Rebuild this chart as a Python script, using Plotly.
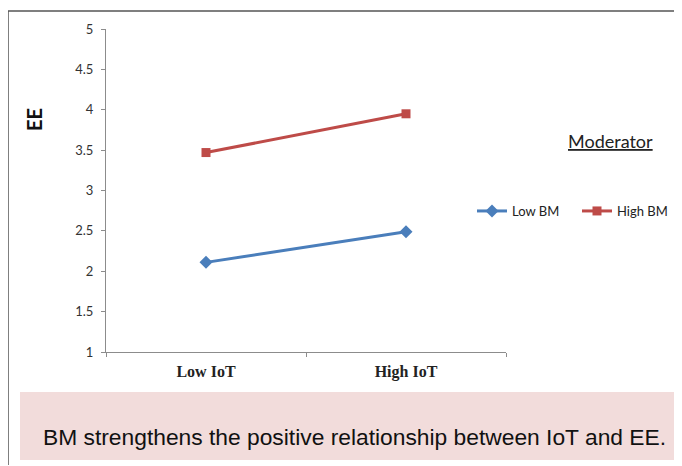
import plotly.graph_objects as go

# ---- data ----
categories = ["Low IoT", "High IoT"]
low_bm = [2.11, 2.49]
high_bm = [3.47, 3.95]
series_names = ["Low BM", "High BM"]
y_ticks = [1, 1.5, 2, 2.5, 3, 3.5, 4, 4.5, 5]
y_tick_labels = ["1", "1.5", "2", "2.5", "3", "3.5", "4", "4.5", "5"]

OFF = 8  # browser default body margin
W, H = 682 - OFF, 466 - OFF
L, R, T, B = 106 - OFF, 506 - OFF, 29 - OFF, 352 - OFF  # plot area in figure pixels


def px(x):
    return (x - OFF - L) / (R - L)


def py(y):
    return (B - (y - OFF)) / (B - T)


fig = go.Figure()
fig.add_trace(go.Scatter(
    x=categories, y=low_bm, name=series_names[0], mode="lines+markers",
    line=dict(color="#4A7EBB", width=3),
    marker=dict(symbol="diamond", size=10, color="#4A7EBB"),
))
fig.add_trace(go.Scatter(
    x=categories, y=high_bm, name=series_names[1], mode="lines+markers",
    line=dict(color="#BE4B48", width=3),
    marker=dict(symbol="square", size=9, color="#BE4B48"),
))

fig.update_layout(
    width=W, height=H,
    margin=dict(l=L, r=W - R, t=T, b=H - B, autoexpand=False),
    paper_bgcolor="white", plot_bgcolor="white",
    showlegend=True,
    legend=dict(
        orientation="h", x=px(472), y=py(211), xanchor="left", yanchor="middle",
        font=dict(family="Lato, Carlito, Liberation Sans", size=13, color="#222"),
        itemwidth=30, entrywidth=60, entrywidthmode="pixels",
        tracegroupgap=0, bgcolor="rgba(0,0,0,0)",
    ),
    xaxis=dict(
        type="category", range=[-0.5, 1.5], showgrid=False, zeroline=False,
        showline=True, linecolor="#8c8c8c", linewidth=1,
        ticks="outside", tickson="boundaries", ticklen=4, tickcolor="#8c8c8c",
        tickfont=dict(family="Liberation Serif, Times New Roman", size=16,
                      color="#222", weight="bold"),
        ticklabelstandoff=5, automargin=False,
    ),
    yaxis=dict(
        range=[1, 5], showgrid=False, zeroline=False,
        showline=True, linecolor="#8c8c8c", linewidth=1,
        ticks="outside", ticklen=4, tickcolor="#8c8c8c",
        tickvals=y_ticks, ticktext=y_tick_labels,
        tickfont=dict(family="Lato, Carlito, Liberation Sans", size=13, color="#333"),
        ticklabelstandoff=5, automargin=False,
    ),
    font=dict(family="Lato, Liberation Sans"),
)

# EE axis label
fig.add_annotation(
    text="<b>EE</b>", x=px(34), y=py(120), xref="paper", yref="paper",
    textangle=-90, showarrow=False, xanchor="center", yanchor="middle",
    font=dict(family="Lato, Liberation Sans", size=20, color="#111"),
)
# Moderator heading
fig.add_annotation(
    text="<u>Moderator</u>", x=px(610), y=py(141), xref="paper", yref="paper",
    showarrow=False, xanchor="center", yanchor="middle",
    font=dict(family="Lato, Liberation Sans", size=18, color="#222"),
)

# outer frame lines
fig.add_shape(type="line", xref="paper", yref="paper",
              x0=px(8), x1=px(681), y0=py(11), y1=py(11),
              line=dict(color="#555", width=1.5))
fig.add_shape(type="line", xref="paper", yref="paper",
              x0=px(8), x1=px(8), y0=py(11), y1=py(465),
              line=dict(color="#555", width=1.5))

# pink caption box
fig.add_shape(type="rect", xref="paper", yref="paper",
              x0=px(20), x1=px(679), y0=py(460), y1=py(392),
              fillcolor="#F2DCDB", line=dict(width=0), layer="below")
fig.add_annotation(
    text="BM strengthens the positive relationship between IoT and EE.",
    x=px(41), y=py(437), xref="paper", yref="paper", showarrow=False,
    xanchor="left", yanchor="middle",
    font=dict(family="Liberation Sans, Arial", size=22.8, color="#111"),
)

fig.write_html("out.html")
